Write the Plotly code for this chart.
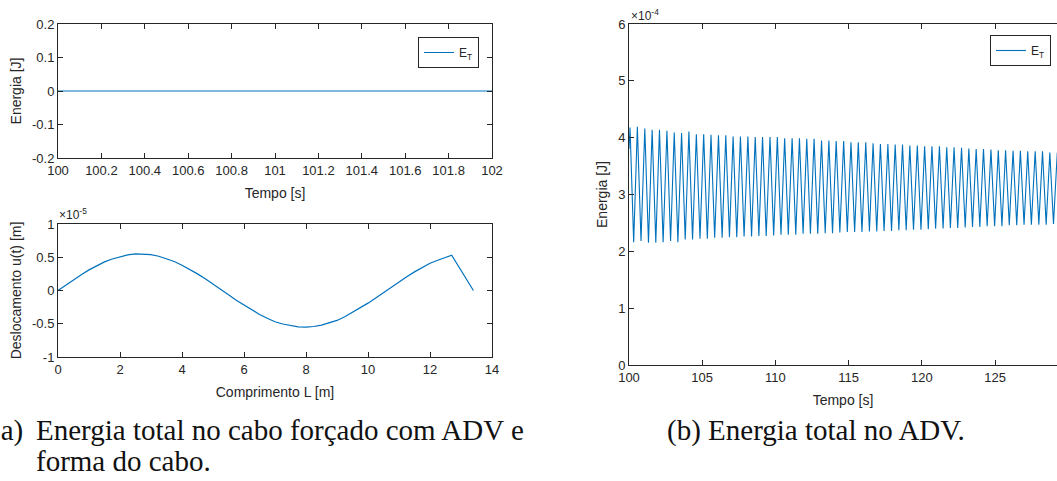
import plotly.graph_objects as go

# ---------------- data ----------------
# (a) top: total energy in the forced cable, 100-102 s
cable_t = [100.0, 100.5, 101.0, 101.5, 102.0]
cable_E = [0.0, 0.0, 0.0, 0.0, 0.0]

# (a) bottom: cable shape, displacement in units of 1e-5 m
shape_x = [0.0, 0.25, 0.5, 0.75, 1.0, 1.25, 1.5, 1.75, 2.0, 2.25, 2.5, 2.75, 3.0, 3.25,
           3.5, 3.75, 4.0, 4.25, 4.5, 4.75, 5.0, 5.25, 5.5, 5.75, 6.0, 6.25, 6.5, 6.75,
           7.0, 7.25, 7.5, 7.75, 8.0, 8.25, 8.5, 8.75, 9.0, 9.25, 9.5, 9.75, 10.0, 10.25,
           10.5, 10.75, 11.0, 11.25, 11.5, 11.75, 12.0, 12.25, 12.5, 12.7, 13.4]
shape_u = [0.0, 0.081, 0.16, 0.237, 0.31, 0.371, 0.43, 0.474, 0.51, 0.535, 0.55, 0.549,
           0.54, 0.515, 0.48, 0.437, 0.38, 0.321, 0.25, 0.176, 0.10, 0.016, -0.065, -0.145,
           -0.22, -0.293, -0.36, -0.417, -0.47, -0.504, -0.53, -0.546, -0.55, -0.541,
           -0.52, -0.489, -0.45, -0.394, -0.33, -0.266, -0.19, -0.113, -0.03, 0.049,
           0.13, 0.208, 0.28, 0.345, 0.41, 0.454, 0.50, 0.53, 0.0]

# (b) total energy in the ADV, units of 1e-4 J: local maxima and minima
adv_start = (100.0, 3.80)
peak_t = [100.07, 100.57, 101.08, 101.58, 102.08, 102.59, 103.09, 103.59, 104.09, 104.60,
          105.10, 105.60, 106.11, 106.61, 107.11, 107.61, 108.12, 108.62, 109.12, 109.63,
          110.13, 110.63, 111.14, 111.64, 112.14, 112.64, 113.15, 113.65, 114.15, 114.66,
          115.16, 115.66, 116.17, 116.67, 117.17, 117.68, 118.18, 118.68, 119.18, 119.69,
          120.19, 120.69, 121.20, 121.70, 122.20, 122.71, 123.21, 123.71, 124.21, 124.72,
          125.22, 125.72, 126.23, 126.73, 127.23, 127.74, 128.24, 128.74, 129.25]
peak_E = [4.18, 4.19, 4.16, 4.14, 4.14, 4.12, 4.09, 4.08, 4.11, 4.06,
          4.06, 4.05, 4.04, 4.04, 4.02, 4.02, 4.02, 4.01, 4.01, 4.01,
          4.01, 3.99, 3.99, 3.99, 3.98, 3.98, 3.95, 3.95, 3.94, 3.94,
          3.92, 3.92, 3.92, 3.90, 3.89, 3.89, 3.88, 3.88, 3.86, 3.86,
          3.85, 3.85, 3.85, 3.83, 3.83, 3.82, 3.81, 3.80, 3.80, 3.79,
          3.78, 3.78, 3.77, 3.77, 3.76, 3.76, 3.76, 3.74, 3.74]
trough_t = [100.32, 100.82, 101.33, 101.83, 102.33, 102.84, 103.34, 103.84, 104.34, 104.85,
            105.35, 105.85, 106.36, 106.86, 107.36, 107.86, 108.37, 108.87, 109.37, 109.88,
            110.38, 110.88, 111.39, 111.89, 112.39, 112.89, 113.40, 113.90, 114.40, 114.91,
            115.41, 115.91, 116.42, 116.92, 117.42, 117.93, 118.43, 118.93, 119.43, 119.94,
            120.44, 120.94, 121.45, 121.95, 122.45, 122.96, 123.46, 123.96, 124.46, 124.97,
            125.47, 125.97, 126.48, 126.98, 127.48, 127.99, 128.49, 128.99]
trough_E = [2.16, 2.18, 2.15, 2.15, 2.16, 2.18, 2.16, 2.21, 2.21, 2.22,
            2.22, 2.24, 2.24, 2.25, 2.25, 2.26, 2.26, 2.27, 2.27, 2.28,
            2.29, 2.29, 2.29, 2.31, 2.31, 2.31, 2.32, 2.32, 2.33, 2.34,
            2.34, 2.34, 2.35, 2.35, 2.36, 2.36, 2.37, 2.37, 2.38, 2.38,
            2.39, 2.40, 2.40, 2.41, 2.41, 2.42, 2.43, 2.43, 2.44, 2.44,
            2.44, 2.46, 2.46, 2.47, 2.47, 2.47, 2.47, 2.48]

top_xticks = [100, 100.2, 100.4, 100.6, 100.8, 101, 101.2, 101.4, 101.6, 101.8, 102]
top_yticks = [-0.2, -0.1, 0, 0.1, 0.2]
shape_xticks = [0, 2, 4, 6, 8, 10, 12, 14]
shape_yticks = [-1, -0.5, 0, 0.5, 1]
adv_xticks = [100, 105, 110, 115, 120, 125]
adv_yticks = [0, 1, 2, 3, 4, 5, 6]

# merge extremes into one time series
adv_t = [adv_start[0]]
adv_E = [adv_start[1]]
for i in range(len(peak_t)):
    adv_t.append(peak_t[i]); adv_E.append(peak_E[i])
    if i < len(trough_t):
        adv_t.append(trough_t[i]); adv_E.append(trough_E[i])

# ---------------- style ----------------
W, H = 1057, 481
AX = "#262626"
BLUE = "#0072BD"
SANS = "Liberation Sans, Arial, sans-serif"
SERIF = "Liberation Serif, Times New Roman, serif"


def px_x(p):
    return p / W


def px_y(p):
    return 1 - p / H


def fmt(v):
    return "%g" % v


def axis(domain, rng, ticks, title, mirror=True, standoff=11):
    return dict(
        domain=domain, range=rng, tickvals=ticks, ticktext=[fmt(v) for v in ticks],
        showline=True, linecolor=AX, linewidth=1, mirror="ticks" if mirror else False,
        ticks="inside", ticklen=5, tickcolor=AX, tickwidth=1,
        showgrid=False, zeroline=False, automargin=False,
        tickfont=dict(family=SANS, size=13, color=AX),
        title=dict(text=title, font=dict(family=SANS, size=14, color=AX), standoff=standoff),
        fixedrange=True,
    )


fig = go.Figure()
fig.add_trace(go.Scatter(x=cable_t, y=cable_E, mode="lines", name="E<sub>T</sub>",
                         line=dict(color=BLUE, width=1), xaxis="x", yaxis="y",
                         legend="legend"))
fig.add_trace(go.Scatter(x=shape_x, y=shape_u, mode="lines", showlegend=False,
                         line=dict(color=BLUE, width=1.2), xaxis="x2", yaxis="y2"))
fig.add_trace(go.Scatter(x=adv_t, y=adv_E, mode="lines", name="E<sub>T</sub>",
                         line=dict(color=BLUE, width=1.1), xaxis="x3", yaxis="y3",
                         legend="legend2"))

left_dom = [px_x(58), px_x(492)]
fig.update_layout(
    width=W, height=H,
    margin=dict(l=0, r=0, t=0, b=0, autoexpand=False),
    paper_bgcolor="white", plot_bgcolor="white",
    xaxis=axis(left_dom, [100, 102], top_xticks, "Tempo [s]"),
    yaxis=axis([px_y(158), px_y(24)], [-0.2, 0.2], top_yticks, "Energia [J]"),
    xaxis2=axis(left_dom, [0, 14], shape_xticks, "Comprimento L [m]"),
    yaxis2=axis([px_y(357), px_y(224)], [-1, 1], shape_yticks, "Deslocamento u(t) [m]"),
    xaxis3=axis([px_x(629), 1.0], [100, 129.23], adv_xticks, "Tempo [s]"),
    yaxis3=axis([px_y(365), px_y(24)], [0, 6], adv_yticks, "Energia [J]", mirror=False),
    legend=dict(x=px_x(479), y=px_y(37), xanchor="right", yanchor="top",
                bgcolor="white", bordercolor=AX, borderwidth=1, itemwidth=30,
                font=dict(family=SANS, size=12, color=AX), tracegroupgap=0),
    legend2=dict(x=px_x(1051), y=px_y(35), xanchor="right", yanchor="top",
                 bgcolor="white", bordercolor=AX, borderwidth=1, itemwidth=30,
                 font=dict(family=SANS, size=12, color=AX), tracegroupgap=0),
    showlegend=True,
)
for k in ("yaxis", "yaxis2", "yaxis3"):
    fig.layout[k].title.standoff = 7
fig.layout.xaxis2.anchor = "y2"
fig.layout.yaxis2.anchor = "x2"
fig.layout.xaxis3.anchor = "y3"
fig.layout.yaxis3.anchor = "x3"

# exponent labels
fig.add_annotation(text="\u00d710<sup>-5</sup>", x=px_x(57), y=px_y(214), xref="paper", yref="paper",
                   xanchor="left", yanchor="middle", showarrow=False,
                   font=dict(family=SANS, size=12, color=AX))
fig.add_annotation(text="\u00d710<sup>-4</sup>", x=px_x(629), y=px_y(15), xref="paper", yref="paper",
                   xanchor="left", yanchor="middle", showarrow=False,
                   font=dict(family=SANS, size=12, color=AX))

# captions
cap_font = dict(family=SERIF, size=29, color="#111111")
fig.add_annotation(text="(a)", x=px_x(25), y=px_y(430), xref="paper", yref="paper",
                   xanchor="right", yanchor="middle", showarrow=False, font=cap_font)
fig.add_annotation(text="Energia total no cabo forçado com ADV e", x=px_x(34), y=px_y(430),
                   xref="paper", yref="paper", xanchor="left", yanchor="middle",
                   showarrow=False, font=cap_font)
fig.add_annotation(text="forma do cabo.", x=px_x(34), y=px_y(461),
                   xref="paper", yref="paper", xanchor="left", yanchor="middle",
                   showarrow=False, font=cap_font)
fig.add_annotation(text="(b) Energia total no ADV.", x=px_x(665), y=px_y(430),
                   xref="paper", yref="paper", xanchor="left", yanchor="middle",
                   showarrow=False, font=cap_font)

fig.write_html("out.html")
